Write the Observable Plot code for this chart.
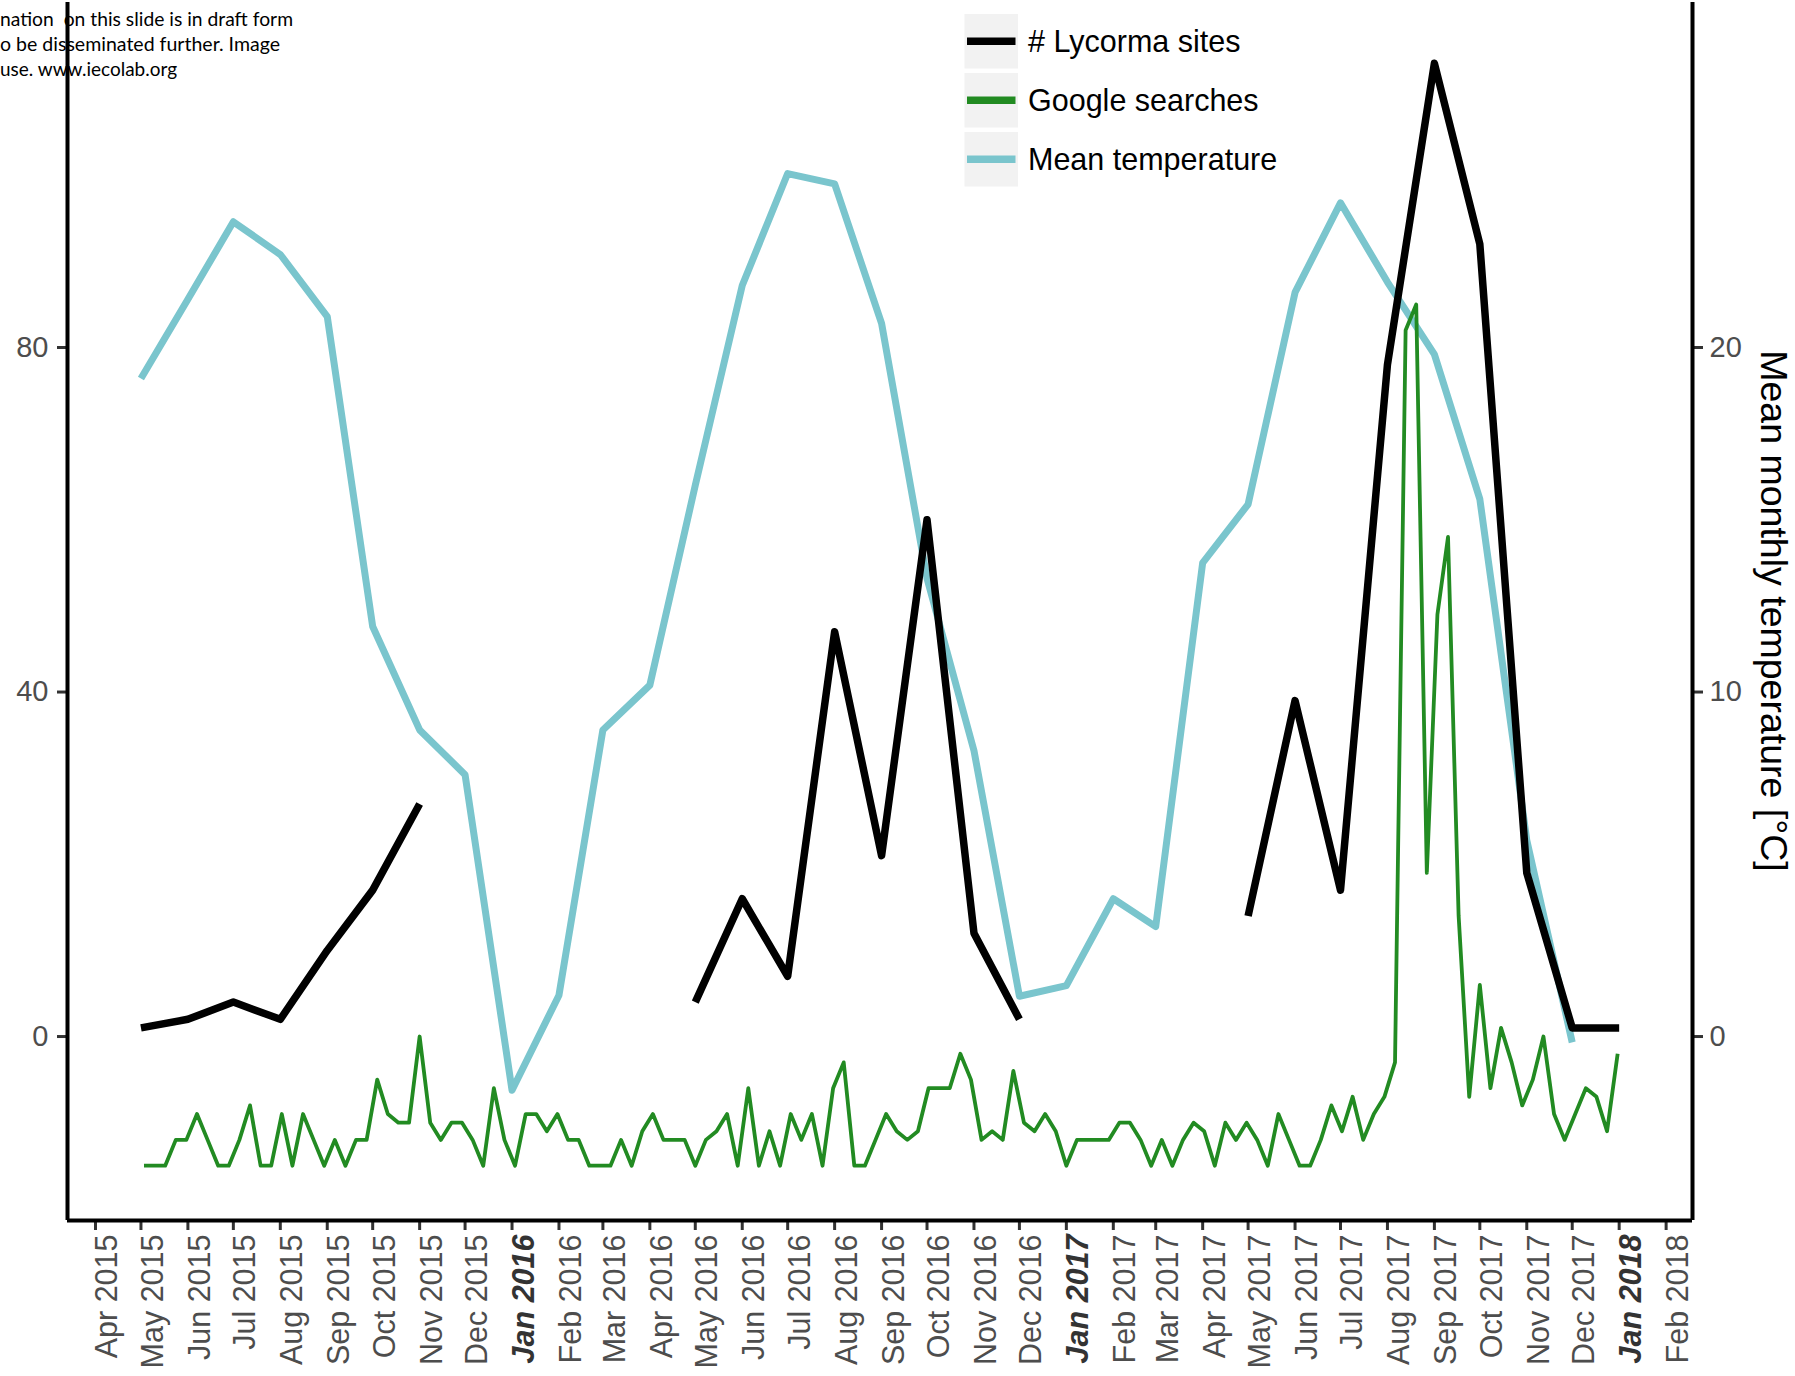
<!DOCTYPE html>
<html><head><meta charset="utf-8">
<script src="https://cdn.jsdelivr.net/npm/d3@7"></script>
<script src="https://cdn.jsdelivr.net/npm/@observablehq/plot@0.6"></script>
<style>
html,body{margin:0;padding:0;background:#fff;overflow:hidden;}
#chart{position:relative;width:1795px;height:1376px;}
</style></head><body><div id="chart"></div>
<script>
// ---------- data ----------
const tickLabels = ["Apr 2015","May 2015","Jun 2015","Jul 2015","Aug 2015","Sep 2015","Oct 2015","Nov 2015","Dec 2015",
  "Jan 2016","Feb 2016","Mar 2016","Apr 2016","May 2016","Jun 2016","Jul 2016","Aug 2016","Sep 2016","Oct 2016","Nov 2016","Dec 2016",
  "Jan 2017","Feb 2017","Mar 2017","Apr 2017","May 2017","Jun 2017","Jul 2017","Aug 2017","Sep 2017","Oct 2017","Nov 2017","Dec 2017",
  "Jan 2018","Feb 2018"];
const months = ["May 2015","Jun 2015","Jul 2015","Aug 2015","Sep 2015","Oct 2015","Nov 2015","Dec 2015",
  "Jan 2016","Feb 2016","Mar 2016","Apr 2016","May 2016","Jun 2016","Jul 2016","Aug 2016","Sep 2016","Oct 2016","Nov 2016","Dec 2016",
  "Jan 2017","Feb 2017","Mar 2017","Apr 2017","May 2017","Jun 2017","Jul 2017","Aug 2017","Sep 2017","Oct 2017","Nov 2017","Dec 2017",
  "Jan 2018"];
const lycormaSites = [1,2,4,2,10,17,27,null,
  null,null,null,null,4,16,7,47,21,60,12,2,
  null,null,null,null,14,39,17,78,113,92,19,1,
  1];
const meanTemp = [19.1,21.4,23.65,22.7,20.9,11.9,8.9,7.6,
  -1.56,1.2,8.9,10.2,16.0,21.8,25.05,24.75,20.7,13.3,8.3,1.17,
  1.48,4.0,3.19,13.75,15.45,21.6,24.2,21.9,19.8,15.6,5.7,-0.17,
  null];
const searchStart = "2015-05-03"; // weekly series (Google Trends weeks)
const googleSearches = [
  0,0,0,3,3,6,3,0,0,3,
  7,0,0,6,0,6,3,0,3,0,
  3,3,10,6,5,5,15,5,3,5,
  5,3,0,9,3,0,6,6,4,6,
  3,3,0,0,0,3,0,4,6,3,
  3,3,0,3,4,6,0,9,0,4,
  0,6,3,6,0,9,12,0,0,3,
  6,4,3,4,9,9,9,13,10,3,
  4,3,11,5,4,6,4,0,3,3,
  3,3,5,5,3,0,3,0,3,5,
  4,0,5,3,5,3,0,6,3,0,
  0,3,7,4,8,3,6,8,12,97,
  100,34,64,73,29,8,21,9,16,12,
  7,10,15,6,3,6,9,8,4,13];
const leftTicks = [0,40,80];
const rightTicks = [0,10,20];
const tempFactor = 4;      // secondary axis: temperature * 4
const searchOffset = 15;   // searches plotted as value - 15
const legendLabels = ["# Lycorma sites","Google searches","Mean temperature"];
const legendColors = ["#000000","#228B22","#7AC5CD"];
const noteLines = ["nation  on this slide is in draft form","o be disseminated further. Image","use. www.iecolab.org"];
const rightTitle = "Mean monthly temperature [°C]";

// ---------- build ----------
const parseMonth = d3.utcParse("%b %Y");
const monthly = months.map((m,i)=>({date:parseMonth(m), sites:lycormaSites[i], temp:meanTemp[i]}));
const t0 = new Date(searchStart + "T00:00:00Z");
const weekly = googleSearches.map((v,i)=>({date:d3.utcDay.offset(t0, 7*i), v}));
const tickDates = tickLabels.map(parseMonth);
const xDomain = [new Date(Date.UTC(2015,2,13,12)), new Date(Date.UTC(2018,1,18,10))];
const yDomain = [-21.36, 120.06];

const W = 1795, H = 1376;
const axisText = {fill:"#4d4d4d", stroke:"#333333", strokeWidth:3};
const chart = Plot.plot({
  width: W, height: H,
  marginLeft: 67, marginRight: 103, marginTop: 2, marginBottom: 156,
  x: {type:"utc", domain:xDomain, label:null},
  y: {domain:yDomain, label:null},
  style: {fontFamily:"'Liberation Sans', Arial, Helvetica, sans-serif", background:"#ffffff", overflow:"visible"},
  marks: [
    Plot.line(monthly, {x:"date", y:d => d.temp == null ? NaN : d.temp*tempFactor, stroke:legendColors[2], strokeWidth:7, strokeLinecap:"butt", strokeLinejoin:"round"}),
    Plot.line(monthly, {x:"date", y:"sites", stroke:legendColors[0], strokeWidth:7.5, strokeLinecap:"butt", strokeLinejoin:"round"}),
    Plot.line(weekly, {x:"date", y:d => d.v - searchOffset, stroke:legendColors[1], strokeWidth:3.8, strokeLinecap:"butt", strokeLinejoin:"round"}),
    Plot.axisX(tickDates, {tickSize:10, tickPadding:4, tickRotate:-90, tickFormat:d3.utcFormat("%b %Y"), fontSize:30.5, label:null, ...axisText}),
    Plot.axisY(leftTicks, {anchor:"left", tickSize:10, tickPadding:9, fontSize:29, label:null, ...axisText}),
    Plot.axisY(rightTicks.map(t=>t*tempFactor), {anchor:"right", tickSize:10, tickPadding:7, fontSize:29, label:null, tickFormat:d => String(d/tempFactor), ...axisText}),
    Plot.ruleX([xDomain[0]], {stroke:"#000", strokeWidth:4}),
    Plot.ruleX([xDomain[1]], {stroke:"#000", strokeWidth:4}),
    Plot.ruleY([yDomain[0]], {stroke:"#000", strokeWidth:4})
  ]
});
document.getElementById("chart").appendChild(chart);

const svg = d3.select(chart);
svg.selectAll('g[aria-label="x-axis tick label"] text')
  .attr("y","0.72em")
  .each(function(){
    const t = d3.select(this);
    if (t.text().startsWith("Jan")) t.style("font-weight","bold").style("font-style","italic").attr("fill","#333");
  });
svg.selectAll('g[aria-label$="tick label"]').attr("fill","#4d4d4d").attr("stroke","none");
svg.selectAll('g[aria-label$="tick"]').attr("stroke","#333333").attr("stroke-width",3);

// legend (inside panel)
const lg = svg.append("g").attr("font-family","'Liberation Sans', Arial, sans-serif").attr("text-anchor","start");
legendLabels.forEach((lab,i)=>{
  const top = 14 + i*59, cy = top + 27.25;
  lg.append("rect").attr("x",964.5).attr("y",top).attr("width",53.5).attr("height",54.5).attr("fill","#f2f2f2");
  lg.append("line").attr("x1",967).attr("x2",1015.5).attr("y1",cy).attr("y2",cy).attr("stroke",legendColors[i]).attr("stroke-width",7.5);
  lg.append("text").attr("x",1028).attr("y",cy).attr("dy","0.36em").attr("text-anchor","start").attr("font-size",30.5).attr("fill","#000").text(lab);
});

// right axis title
svg.append("text").attr("transform","translate(1761,611) rotate(90)").attr("text-anchor","middle")
  .attr("font-family","'Liberation Sans', Arial, sans-serif").attr("font-size",37.5).attr("fill","#000").text(rightTitle);

// top-left cropped slide note
const noteLens = [293, 280, 177];
const noteBase = [26, 50.7, 76];
const ng = svg.append("g").attr("text-anchor","start");
noteLines.forEach((s,i)=>{
  ng.append("text").attr("x",0).attr("y",noteBase[i]).attr("text-anchor","start").attr("font-family","Lato, 'Open Sans', sans-serif")
    .attr("font-size",20).attr("fill","#000").attr("textLength",noteLens[i]).attr("lengthAdjust","spacingAndGlyphs").text(s);
});
</script>
</body></html>
